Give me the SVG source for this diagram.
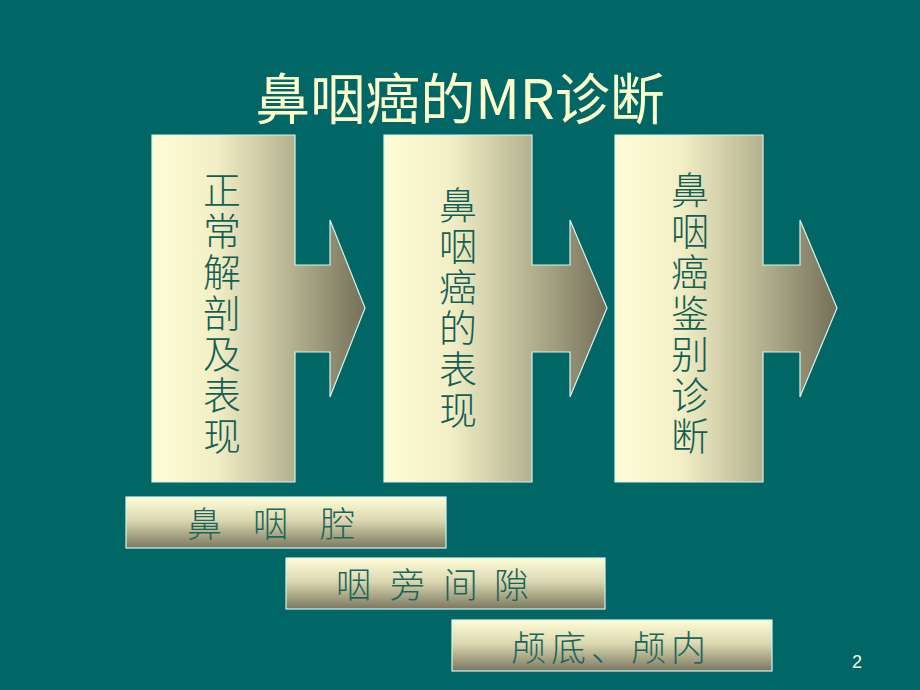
<svg xmlns="http://www.w3.org/2000/svg" width="920" height="690" viewBox="0 0 920 690">
<defs>
<linearGradient id="hg" x1="0" y1="0" x2="1" y2="0">
<stop offset="0" stop-color="#FFFDD6"/>
<stop offset="0.3" stop-color="#F2EFC6"/>
<stop offset="0.65" stop-color="#B6B391"/>
<stop offset="1" stop-color="#746F58"/>
</linearGradient>
<linearGradient id="vg" x1="0" y1="0" x2="0" y2="1">
<stop offset="0" stop-color="#FFFDD6"/>
<stop offset="0.45" stop-color="#DCD9B2"/>
<stop offset="1" stop-color="#7C7860"/>
</linearGradient>
<style>
.arrow{fill:url(#hg);stroke:#D8F2EC;stroke-width:1.2}
.bar{fill:url(#vg);stroke:#D8F2EC;stroke-width:1.2}
.vt{font-family:"Noto Sans CJK SC","Noto Sans",sans-serif;font-size:38px;font-weight:300;fill:#135F55;text-anchor:middle}
.bt{font-family:"Noto Sans CJK SC","Noto Sans",sans-serif;font-size:35px;font-weight:300;fill:#1A665C}
.title{font-family:"Noto Sans CJK SC","Noto Sans",sans-serif;font-size:55px;fill:#FFFFCC;text-anchor:middle}
</style>
</defs>
<rect width="920" height="690" fill="#006666"/>
<text class="title" x="460" y="119">鼻咽癌的MR诊断</text>
<g id="connectors"></g>
<g id="node1">
<path class="arrow" d="M152,135 H295 V265 H330 V220 L365,308 L330,397 V352 H295 V482 H152 Z"/>
<text class="vt"><tspan x="222" y="204">正</tspan><tspan x="222" y="245">常</tspan><tspan x="222" y="286">解</tspan><tspan x="222" y="327">剖</tspan><tspan x="222" y="368">及</tspan><tspan x="222" y="409">表</tspan><tspan x="222" y="450">现</tspan></text>
</g>
<g id="node2">
<path class="arrow" d="M384,135 H532 V265 H570 V220 L607,308 L570,397 V352 H532 V482 H384 Z"/>
<text class="vt"><tspan x="458" y="219">鼻</tspan><tspan x="458" y="260">咽</tspan><tspan x="458" y="301">癌</tspan><tspan x="458" y="342">的</tspan><tspan x="458" y="383">表</tspan><tspan x="458" y="424">现</tspan></text>
</g>
<g id="node3">
<path class="arrow" d="M615,135 H763 V265 H800 V220 L837,308 L800,397 V352 H763 V482 H615 Z"/>
<text class="vt"><tspan x="690" y="204">鼻</tspan><tspan x="690" y="245">咽</tspan><tspan x="690" y="286">癌</tspan><tspan x="690" y="327">鉴</tspan><tspan x="690" y="368">别</tspan><tspan x="690" y="409">诊</tspan><tspan x="690" y="450">断</tspan></text>
</g>
<g id="node4">
<rect class="bar" x="126" y="497" width="320" height="51"/>
<text class="bt" x="187 221 253 287 320" y="537">鼻 咽 腔</text>
</g>
<g id="node5">
<rect class="bar" x="286" y="558" width="319" height="51"/>
<text class="bt" x="336 371 390 425 443 478 494" y="598">咽 旁 间 隙</text>
</g>
<g id="node6">
<rect class="bar" x="452" y="620" width="320" height="51"/>
<text class="bt" x="511 551 591 631 671" y="661" font-size="38">颅底、颅内</text>
</g>
<text x="857" y="668" font-family="Liberation Sans, sans-serif" font-size="18" fill="#FFFFE8" text-anchor="middle">2</text>
</svg>
